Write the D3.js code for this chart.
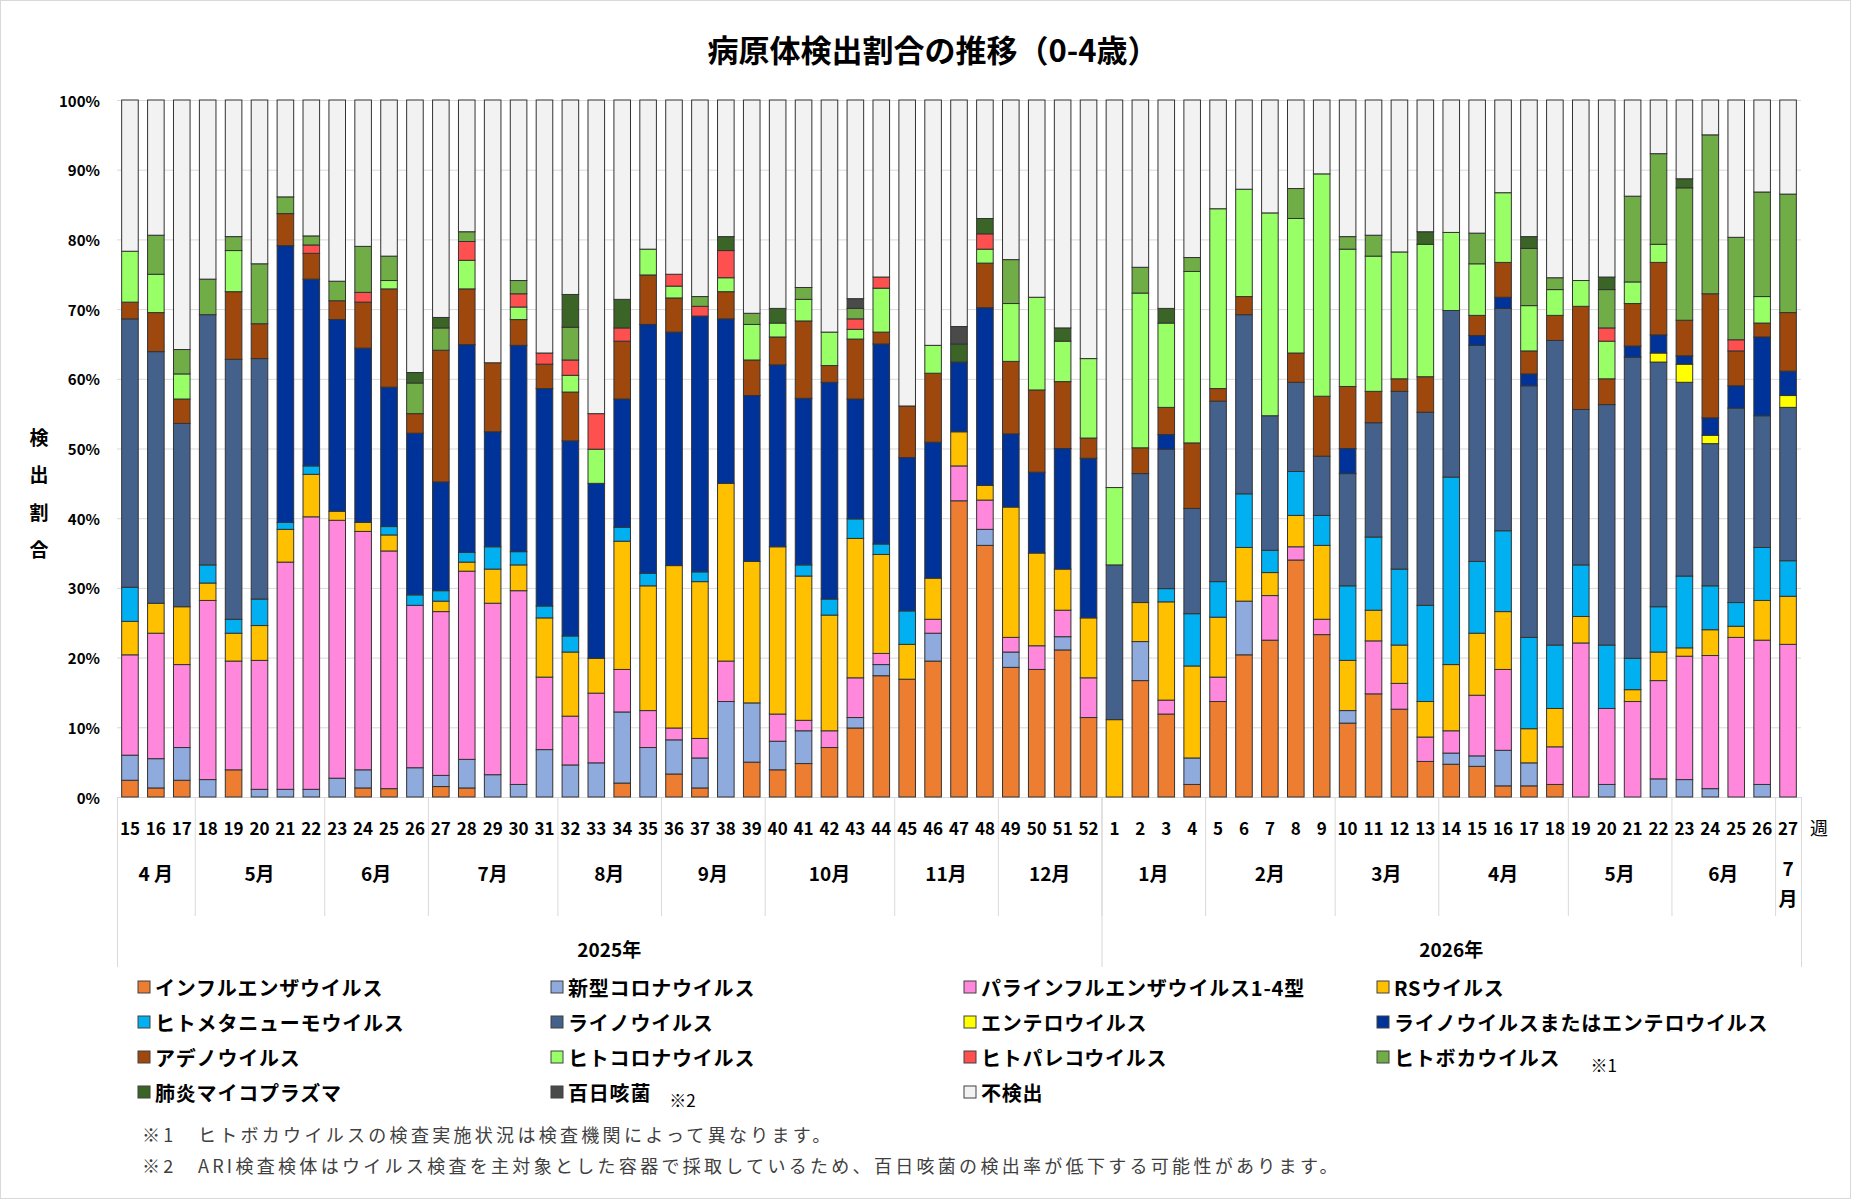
<!DOCTYPE html>
<html>
<head>
<meta charset="utf-8">
<script src="https://cdn.jsdelivr.net/npm/d3@7/dist/d3.min.js"></script>
<style>
  body { margin: 0; background: #fff; }
  text { font-family: "Noto Sans CJK JP", "Noto Sans", sans-serif; }
</style>
</head>
<body>
<svg id="chart" width="1852" height="1201"></svg>
<script>
// weeks: 2025 w15-52, then 2026 w1-27
var weeks = [15,16,17,18,19,20,21,22,23,24,25,26,27,28,29,30,31,32,33,34,35,36,37,38,39,40,41,42,43,44,45,46,47,48,49,50,51,52,
             1,2,3,4,5,6,7,8,9,10,11,12,13,14,15,16,17,18,19,20,21,22,23,24,25,26,27];

var months = ["4 月","5月","6月","7月","8月","9月","10月","11月","12月","1月","2月","3月","4月","5月","6月","7月"];
var monthWeeks = [3,5,4,5,4,4,5,4,4, 4,5,4,5,4,4,1];
var years = ["2025年","2026年"];
var yearWeeks = [38,27];
var yTicks = [0,10,20,30,40,50,60,70,80,90,100];

// detection share (%) per pathogen, one value per week
var flu     = [2.4,1.3,2.4,0,3.9,0,0,0,0,1.3,1.2,0,1.5,1.3,0,0,0,0,0,2.0,0,3.3,1.3,0,5.0,3.9,4.8,7.1,9.9,17.4,16.9,19.5,42.5,36.1,18.6,18.3,21.1,11.4,
               0,16.7,11.9,1.8,13.7,20.4,22.5,34.0,23.3,10.6,14.8,12.6,5.1,4.7,4.4,1.6,1.6,1.8,0,0,0,0,0,0,0,0,0];
var covid   = [3.6,4.2,4.7,2.5,0,1.1,1.1,1.1,2.7,2.6,0,4.2,1.6,4.1,3.2,1.8,6.8,4.6,4.9,10.2,7.1,4.9,4.3,13.7,8.5,4.1,4.7,0,1.5,1.6,0,4.0,0,2.3,2.2,0,1.9,0,
               0,5.6,0,3.8,0,7.7,0,0,0,1.8,0,0,0,1.6,1.5,5.1,3.3,0,0,1.8,0,2.6,2.5,1.2,0,1.8,0];
var para    = [14.4,18.0,11.9,25.7,15.6,18.5,32.6,39.1,37.0,34.2,34.1,23.3,23.5,27.0,24.6,27.8,10.4,7.0,10.0,6.1,5.3,1.7,2.8,5.8,0,3.9,1.5,2.4,5.7,1.6,0,2.0,5.0,4.2,2.1,3.4,3.8,5.7,
               0,0,2.0,0,3.5,0,6.4,1.9,2.2,0,7.6,3.7,3.5,3.2,8.7,11.6,0,5.4,22.1,10.9,13.7,14.1,17.7,19.1,22.9,20.7,21.9];
var rsv     = [4.8,4.3,8.3,2.5,4.0,5.0,4.7,6.1,1.3,1.3,2.3,0,1.5,1.3,4.9,3.7,8.5,9.2,5.0,18.4,17.9,23.3,22.5,25.5,20.3,24.0,20.7,16.6,20.0,14.2,5.0,5.9,4.9,2.1,18.7,13.3,5.9,8.6,
               11.1,5.6,14.1,13.2,8.6,7.7,3.3,4.5,10.6,7.2,4.4,5.5,5.1,9.5,8.9,8.3,4.9,5.5,3.8,0,1.7,4.1,1.2,3.7,1.6,5.7,6.9];
var hmpv    = [4.9,0,0,2.6,2.0,3.8,1.0,1.2,0,0,1.2,1.5,1.5,1.4,3.2,1.9,1.7,2.3,0,2.0,1.8,0,1.4,0,0,0,1.6,2.3,2.8,1.5,4.8,0,0,0,0,0,0,0,
               0,0,1.9,7.5,5.1,7.7,3.2,6.3,4.3,10.7,10.5,10.9,13.8,26.9,10.3,11.6,13.1,9.1,7.4,9.1,4.5,6.5,10.3,6.3,3.4,7.6,5.1];
var rhino   = [38.5,36.1,26.3,35.9,37.3,34.5,0,0,0,0,0,0,0,0,0,0,0,0,0,0,0,0,0,0,0,0,0,0,0,0,0,0,0,0,0,0,0,0,
               22.2,18.5,20.0,15.1,25.9,25.7,19.3,12.8,8.5,16.1,16.4,25.5,27.7,23.9,31.0,31.9,36.1,43.7,22.3,34.5,43.2,35.1,27.8,20.4,27.9,18.9,22.0];
var entero  = [0,0,0,0,0,0,0,0,0,0,0,0,0,0,0,0,0,0,0,0,0,0,0,0,0,0,0,0,0,0,0,0,0,0,0,0,0,0,
               0,0,0,0,0,0,0,0,0,0,0,0,0,0,0,0,0,0,0,0,0,1.3,2.6,1.2,0,0,1.7];
var rhinoEnt= [0,0,0,0,0,0,39.7,26.8,27.5,25.0,20.0,23.2,15.6,29.8,16.5,29.6,31.2,28.0,25.1,18.4,35.7,33.5,36.7,23.6,23.8,26.1,23.9,31.1,17.2,28.7,22.0,19.5,10.0,25.5,10.5,11.6,17.3,22.9,
               0,0,2.1,0,0,0,0,0,0,3.6,0,0,0,0,1.4,1.6,1.7,0,0,0,1.6,2.6,1.2,2.5,3.2,11.3,3.5];
var adeno   = [2.4,5.6,3.5,0,9.7,5.0,4.6,3.7,2.7,6.6,14.1,2.8,18.9,8.0,9.9,3.7,3.5,7.0,0,8.3,7.1,4.9,0,3.9,5.1,4.0,11.1,2.4,8.6,1.7,7.4,9.9,0,6.4,10.4,11.8,9.6,2.9,
               0,3.7,3.9,9.4,1.8,2.6,0,4.2,8.6,8.9,4.5,1.8,5.1,0,2.9,5.0,3.3,3.6,14.8,3.7,6.1,10.4,5.1,17.8,5.0,2.0,8.4];
var hcov    = [7.3,5.5,3.6,0,5.9,0,0,0,0,0,1.2,0,0,4.1,0,1.8,0,2.4,4.9,0,3.7,1.7,0,2.0,5.1,2.0,3.1,4.8,1.4,6.3,0,4.0,0,2.0,8.3,13.3,5.8,11.4,
               11.1,22.2,12.1,24.6,25.8,15.4,29.1,19.3,31.9,19.7,19.4,18.2,19.0,11.2,7.4,10.0,6.5,3.7,3.7,5.4,3.1,2.6,0,0,0,3.8,0];
var parecho = [0,0,0,0,0,0,0,1.2,0,1.4,0,0,0,2.7,0,1.9,1.6,2.2,5.1,1.9,0,1.7,1.4,3.9,0,0,0,0,1.5,1.6,0,0,0,2.2,0,0,0,0,
               0,0,0,0,0,0,0,0,0,0,0,0,0,0,0,0,0,0,0,1.9,0,0,0,0,1.6,0,0];
var boca    = [0,5.6,3.5,5.1,2.0,8.6,2.4,1.3,2.8,6.6,3.5,4.4,3.2,1.4,0,1.9,0,4.7,0,0,0,0,1.4,0,1.6,0,1.7,0,1.5,0,0,0,0,0,6.3,0,0,0,
               0,3.7,0,2.0,0,0,0,4.3,0,1.8,3.0,0,0,0,4.4,0,8.2,1.7,0,5.5,12.3,13.0,19.0,22.8,14.7,15.0,17.0];
var myco    = [0,0,0,0,0,0,0,0,0,0,0,1.5,1.5,0,0,0,0,4.7,0,4.1,0,0,0,2.0,0,2.1,0,0,0,0,0,0,2.6,2.2,0,0,1.9,0,
               0,0,2.1,0,0,0,0,0,0,0,0,0,1.8,0,0,0,1.7,0,0,1.8,0,0,1.3,0,0,0,0];
var pert    = [0,0,0,0,0,0,0,0,0,0,0,0,0,0,0,0,0,0,0,0,0,0,0,0,0,0,0,0,1.4,0,0,0,2.5,0,0,0,0,0,
               0,0,0,0,0,0,0,0,0,0,0,0,0,0,0,0,0,0,0,0,0,0,0,0,0,0,0];
var none    = [21.7,19.4,35.8,25.7,19.6,23.5,13.9,19.5,26.0,21.0,22.4,39.1,31.2,18.9,37.7,25.9,36.3,27.9,45.0,28.6,21.4,25.0,28.2,19.6,30.6,29.9,26.9,33.3,28.5,25.4,43.9,35.2,32.5,17.0,22.9,28.3,32.7,37.1,
               55.6,24.0,29.9,22.6,15.6,12.8,16.2,12.7,10.6,19.6,19.4,21.8,18.9,19.0,19.1,13.3,19.6,25.5,25.9,25.4,13.8,7.7,11.3,5.0,19.7,13.2,13.5];

var series = [
  {key:"flu",      name:"インフルエンザウイルス",             values:flu,      color:"#ED7D31"},
  {key:"covid",    name:"新型コロナウイルス",                 values:covid,    color:"#8FAADC"},
  {key:"para",     name:"パラインフルエンザウイルス1-4型",    values:para,     color:"#FF87DC"},
  {key:"rsv",      name:"RSウイルス",                         values:rsv,      color:"#FFC000"},
  {key:"hmpv",     name:"ヒトメタニューモウイルス",           values:hmpv,     color:"#00B0F0"},
  {key:"rhino",    name:"ライノウイルス",                     values:rhino,    color:"#44618C"},
  {key:"entero",   name:"エンテロウイルス",                   values:entero,   color:"#FFFF00"},
  {key:"rhinoEnt", name:"ライノウイルスまたはエンテロウイルス", values:rhinoEnt, color:"#003399"},
  {key:"adeno",    name:"アデノウイルス",                     values:adeno,    color:"#9E480E"},
  {key:"hcov",     name:"ヒトコロナウイルス",                 values:hcov,     color:"#99FF66"},
  {key:"parecho",  name:"ヒトパレコウイルス",                 values:parecho,  color:"#FF5050"},
  {key:"boca",     name:"ヒトボカウイルス",                   values:boca,     color:"#70AD47", note:"※1"},
  {key:"myco",     name:"肺炎マイコプラズマ",                 values:myco,     color:"#3B6427"},
  {key:"pert",     name:"百日咳菌",                           values:pert,     color:"#4A4A4A", note:"※2"},
  {key:"none",     name:"不検出",                             values:none,     color:"#F2F2F2"}
];

var svg = d3.select("#chart"),
    width = +svg.attr("width"),
    height = +svg.attr("height");

var plotL = 117, plotR = 1801, plotT = 100, plotB = 797;

// outer frame
svg.append("rect")
  .attr("x", 0.5).attr("y", 0.5)
  .attr("width", width - 2).attr("height", height - 3)
  .attr("fill", "#fff").attr("stroke", "#D9D9D9");

var rows = weeks.map(function(w, i) {
  var r = {i: i};
  series.forEach(function(s) { r[s.key] = s.values[i]; });
  return r;
});

var x = d3.scaleBand()
  .domain(d3.range(weeks.length))
  .range([plotL, plotR])
  .paddingInner(0.36)
  .paddingOuter(0.18);
var step = x.step();

var y = d3.scaleLinear().domain([0, 100]).range([plotB, plotT]);

// gridlines
svg.append("g").selectAll("line")
  .data(yTicks)
  .enter().append("line")
    .attr("x1", plotL).attr("x2", plotR)
    .attr("y1", function(d) { return y(d) + 0.5; })
    .attr("y2", function(d) { return y(d) + 0.5; })
    .attr("stroke", "#D9D9D9").attr("stroke-width", 1);

// y labels
svg.append("g").selectAll("text")
  .data(yTicks)
  .enter().append("text")
    .attr("x", plotL - 17)
    .attr("y", function(d) { return y(d); })
    .attr("text-anchor", "end")
    .attr("dominant-baseline", "central")
    .attr("font-size", 15).attr("font-weight", 700)
    .text(function(d) { return d + "%"; });

// y title, one character per line
svg.append("g").selectAll("text")
  .data("検出割合".split(""))
  .enter().append("text")
    .attr("x", 39)
    .attr("y", function(d, i) { return 436 + i * 37.5; })
    .attr("text-anchor", "middle")
    .attr("dominant-baseline", "central")
    .attr("font-size", 19).attr("font-weight", 700)
    .text(function(d) { return d; });

// stacked bars
var stack = d3.stack().keys(series.map(function(s) { return s.key; }));
var layers = stack(rows);

svg.append("g").selectAll("g")
  .data(layers)
  .enter().append("g")
    .attr("fill", function(d, i) { return series[i].color; })
  .selectAll("rect")
  .data(function(d) { return d.filter(function(p) { return p[1] - p[0] > 0; }); })
  .enter().append("rect")
    .attr("x", function(d) { return x(d.data.i); })
    .attr("width", x.bandwidth())
    .attr("y", function(d) { return y(Math.min(d[1], 100)); })
    .attr("height", function(d) { return y(d[0]) - y(Math.min(d[1], 100)); })
    .attr("stroke", "#333")
    .attr("stroke-width", 1);

// week axis
var xAxis = d3.axisBottom(x)
  .tickSize(0)
  .tickFormat(function(i) { return weeks[i]; });
var ax = svg.append("g")
  .attr("transform", "translate(0," + plotB + ")")
  .call(xAxis);
ax.select(".domain").remove();
ax.selectAll("text")
  .attr("y", 30).attr("dy", 0)
  .attr("dominant-baseline", "central")
  .attr("font-size", 17).attr("font-weight", 700)
  .attr("font-family", "'Noto Sans CJK JP', sans-serif")
  .attr("fill", "#000");

svg.append("text")
  .attr("x", plotR + 18).attr("y", plotB + 30)
  .attr("text-anchor", "middle")
  .attr("dominant-baseline", "central")
  .attr("font-size", 18)
  .text("週");

// month groups
var mStart = 0;
var monthData = months.map(function(m, k) {
  var d = {label: m, start: mStart, n: monthWeeks[k]};
  mStart += monthWeeks[k];
  return d;
});
var edgeX = function(i) { return plotL + i * step; };

svg.append("g").selectAll("line")
  .data(monthData.slice(1))
  .enter().append("line")
    .attr("x1", function(d) { return edgeX(d.start) + 0.5; })
    .attr("x2", function(d) { return edgeX(d.start) + 0.5; })
    .attr("y1", plotB).attr("y2", plotB + 119)
    .attr("stroke", "#D9D9D9");

var mLab = svg.append("g").selectAll("text")
  .data(monthData)
  .enter().append("text")
    .attr("x", function(d) { return edgeX(d.start + d.n / 2); })
    .attr("y", plotB + 75)
    .attr("text-anchor", "middle")
    .attr("dominant-baseline", "central")
    .attr("font-size", 19).attr("font-weight", 700);
mLab.each(function(d) {
  var t = d3.select(this);
  if (d.n === 1) {
    // narrow group: stack number over 月
    t.attr("y", null);
    t.append("tspan").attr("x", edgeX(d.start + 0.5)).attr("y", plotB + 70).text(d.label.replace("月", ""));
    t.append("tspan").attr("x", edgeX(d.start + 0.5)).attr("y", plotB + 100).text("月");
  } else {
    t.text(d.label);
  }
});

// year groups
var yStart = 0;
var yearData = years.map(function(yr, k) {
  var d = {label: yr, start: yStart, n: yearWeeks[k]};
  yStart += yearWeeks[k];
  return d;
});
svg.append("g").selectAll("line")
  .data(d3.range(years.length + 1).map(function(k) { return d3.sum(yearWeeks.slice(0, k)); }))
  .enter().append("line")
    .attr("x1", function(d) { return edgeX(d) + 0.5; })
    .attr("x2", function(d) { return edgeX(d) + 0.5; })
    .attr("y1", plotB).attr("y2", plotB + 170)
    .attr("stroke", "#D9D9D9");
svg.append("g").selectAll("text")
  .data(yearData)
  .enter().append("text")
    .attr("x", function(d) { return edgeX(d.start + d.n / 2); })
    .attr("y", plotB + 151)
    .attr("text-anchor", "middle")
    .attr("dominant-baseline", "central")
    .attr("font-size", 19).attr("font-weight", 700)
    .text(function(d) { return d.label; });

// title
svg.append("text")
  .attr("x", 933).attr("y", 48)
  .attr("text-anchor", "middle")
  .attr("dominant-baseline", "central")
  .attr("font-size", 31).attr("font-weight", 700)
  .text("病原体検出割合の推移（0-4歳）");

// legend
var legend = svg.append("g").selectAll("g")
  .data(series)
  .enter().append("g")
    .attr("transform", function(d, i) {
      return "translate(" + (138 + (i % 4) * 413) + "," + (987 + Math.floor(i / 4) * 35) + ")";
    });
legend.append("rect")
  .attr("x", 0).attr("y", -6).attr("width", 12).attr("height", 12)
  .attr("fill", function(d) { return d.color; })
  .attr("stroke", "#404040").attr("stroke-width", 1);
legend.append("text")
  .attr("x", 17).attr("y", 0)
  .attr("dominant-baseline", "central")
  .attr("font-size", 20).attr("font-weight", 700)
  .attr("letter-spacing", 0.8)
  .text(function(d) { return d.name; });
legend.filter(function(d) { return d.note; })
  .append("text")
    .attr("x", function(d) {
      var w = this.parentNode.querySelector("text").getComputedTextLength();
      return 17 + w + (d.key === "boca" ? 30 : 18);
    })
    .attr("y", 7)
    .attr("dominant-baseline", "central")
    .attr("font-size", 17)
    .text(function(d) { return d.note; });

// footnotes
var notes = [
  "※1　ヒトボカウイルスの検査実施状況は検査機関によって異なります。",
  "※2　ARI検査検体はウイルス検査を主対象とした容器で採取しているため、百日咳菌の検出率が低下する可能性があります。"
];
svg.append("g").selectAll("text")
  .data(notes)
  .enter().append("text")
    .attr("x", 142)
    .attr("y", function(d, i) { return 1134 + i * 31; })
    .attr("dominant-baseline", "central")
    .attr("font-size", 18)
    .attr("letter-spacing", 3.3)
    .attr("fill", "#404040")
    .text(function(d) { return d; });
</script>
</body>
</html>
